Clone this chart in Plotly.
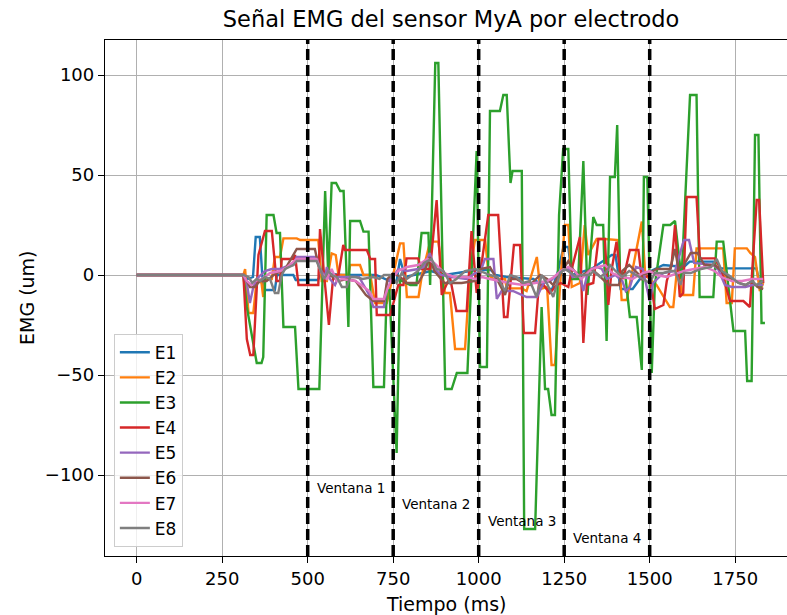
import plotly.graph_objects as go

# ---------------- data (time in ms, EMG in um) ----------------
t_e1 = [0, 310, 325, 340, 348, 360, 370, 404, 410, 458, 465, 530, 540, 600, 700, 740, 760, 770, 785, 860, 900, 994, 1035, 1050, 1080, 1160, 1200, 1215, 1232, 1248, 1262, 1272, 1330, 1389, 1400, 1415, 1450, 1480, 1540, 1600, 1617, 1686, 1696, 1750, 1812, 1820, 1832]
v_e1 = [0, 0, -2, -1, 19, 19, -7.5, -7.5, 0, 0, -2.5, -2.5, 1, 0, 0, -3, -3, 8, -1, 2, 0, 2.5, 2.5, 0, -1, -2, -7, -7, 2, 14, 14, 0, 3, 10, 10, -7, -7, 0, 5, 4, 6.7, 6.7, 3.3, 3.3, 3.3, -3, -3]

t_e2 = [0, 312, 317, 327, 341, 351, 365, 370, 375, 395, 404, 419, 429, 468, 478, 531, 541, 556, 570, 582, 590, 619, 624, 653, 663, 683, 697, 731, 750, 770, 780, 790, 824, 834, 858, 882, 901, 916, 931, 960, 975, 989, 1019, 1029, 1043, 1077, 1082, 1126, 1140, 1170, 1180, 1200, 1213, 1223, 1240, 1252, 1262, 1272, 1296, 1310, 1320, 1345, 1369, 1408, 1418, 1433, 1477, 1487, 1520, 1559, 1569, 1584, 1593, 1627, 1637, 1715, 1725, 1740, 1749, 1784, 1794, 1808, 1822, 1832]
v_e2 = [0, 0, 3, -19, -19, -2, -4, -11, -2, -2, 9, 9, 18.3, 18.3, 17.5, 17.5, -3, -3, 10.8, 10, 0, 0, 5, 5, 0, 0, -14, -14, 0, 15.8, 15.8, -11, -11, 0, 16.7, 16.7, -9, -9, -37, -37, 2, 17.5, 17.5, 0, -2, -2, -6.7, -6.7, -8, 9, -7, -6, -45, -45, 0, 25, 25, -6, -4, 25, 10, 18, 18, 17.5, -12.5, -12.5, 26.7, 0, -5, -16, -16, 10, -10, -10, 13.3, 13.3, -14, -14, 13.3, 13.3, 11, 9, -8, -4]

t_e3 = [0, 312, 322, 351, 365, 370, 380, 400, 409, 419, 429, 463, 473, 534, 551, 560, 570, 583, 595, 605, 619, 624, 653, 663, 678, 692, 723, 731, 739, 760, 770, 800, 818, 833, 853, 858, 873, 882, 902, 921, 936, 967, 994, 1004, 1024, 1033, 1062, 1072, 1082, 1093, 1099, 1126, 1133, 1165, 1184, 1194, 1203, 1213, 1223, 1235, 1247, 1262, 1272, 1291, 1306, 1318, 1335, 1345, 1364, 1374, 1384, 1398, 1405, 1413, 1428, 1442, 1462, 1477, 1483, 1493, 1506, 1515, 1540, 1560, 1574, 1593, 1618, 1637, 1646, 1686, 1696, 1715, 1745, 1779, 1785, 1798, 1808, 1818, 1827, 1837]
v_e3 = [0, 0, -16, -44, -44, -41, 30, 30, 21, 21, -26, -26, -57, -57, 42, 0, 46, 46, 42, 42, -26, 27, 27, 21.7, 21.7, -56, -56, -7.5, -7.5, -89, -2.5, -5, -5, 21, 21, -5, 106, 106, -57, -57, -49, -49, 62, -46, -46, 82, 82, 90, 90, 46, 52, 52, -127, -127, -16, -57, -57, -70, -70, 30, 63, 63, -2, -2, 57, -10, 29, 25, 25, -33, 49, 49, 75, 1, 1, -21, -21, -47.5, 49, 49, -49, -5, 25, 25, 27, -2, 90, 90, -11, -11, 16.7, 16.7, -28, -28, -53, -53, 70, 70, -24, -24]

t_e4 = [0, 312, 322, 332, 341, 356, 375, 395, 409, 419, 424, 458, 463, 473, 531, 536, 548, 562, 575, 590, 604, 609, 673, 683, 697, 702, 741, 765, 780, 789, 823, 833, 858, 877, 892, 902, 916, 935, 965, 979, 994, 1004, 1028, 1057, 1074, 1084, 1103, 1121, 1132, 1165, 1176, 1190, 1208, 1228, 1240, 1262, 1275, 1296, 1306, 1316, 1335, 1350, 1369, 1379, 1389, 1403, 1413, 1423, 1442, 1467, 1477, 1500, 1515, 1540, 1550, 1564, 1574, 1588, 1598, 1608, 1637, 1647, 1691, 1710, 1735, 1774, 1793, 1813, 1820, 1832]
v_e4 = [0, 0, -32, -40, -40, 10, 22, 22, -3, -3, 8, 8, 10, -5, -5, 23, 0, -25, 0, 0, 15, 12.5, 12.5, 8, 8, -20, -20, -5, -5, 8.3, 8.3, 3, 3, 37.5, -10, -6, -1, -18, -18, 22, -9, 0, 30, 30, -21, -21, 15, 15, -29, -29, -5, -5, -9, -5, -4, -6, 5, 19, -34, -5, -4, 18, 18, -15, 3, 16.7, 2, -2, 12.5, 12.5, -2, 0, -17, -15, -3, 5, 25, -11, -9, 39, 39, 8.3, 8.3, 2, -13, -13, -16, 37.5, 37.5, -4]

t_e5 = [0, 312, 322, 331, 341, 351, 375, 395, 420, 434, 458, 468, 526, 536, 551, 556, 565, 580, 590, 650, 680, 692, 723, 733, 750, 765, 790, 823, 840, 857, 870, 890, 920, 965, 990, 1004, 1018, 1043, 1053, 1067, 1100, 1140, 1170, 1190, 1210, 1240, 1262, 1275, 1296, 1306, 1320, 1345, 1360, 1375, 1400, 1420, 1430, 1442, 1460, 1480, 1500, 1510, 1540, 1574, 1600, 1615, 1630, 1686, 1700, 1720, 1740, 1780, 1800, 1832]
v_e5 = [0, 0, -4, -14, -6, -2, 2, 3, 3, 4, 5, 9, 9, 3, -1, 4, -2, -5, -1, -1, -10, -16, -16, -3, -1, 3, 2, 3, 4, 11, 3, 0, -1, -2, 1, 1, 8, 8, -12, -8, -8, -11, -11, -4, -3, 2, 3, -1, 0, -8, 2, 4, 3, -2, 0, -3, -8, -6, 4, 3, -13, -4, 1, 2, 17.5, 17.5, 6, 5, 3, -5, -6, -6, -5, -5]

t_e6 = [0, 312, 322, 331, 345, 360, 380, 400, 434, 458, 468, 521, 531, 546, 565, 590, 614, 640, 670, 692, 723, 733, 750, 770, 790, 823, 840, 857, 870, 900, 950, 990, 1004, 1033, 1053, 1077, 1090, 1110, 1130, 1150, 1180, 1200, 1218, 1240, 1262, 1275, 1296, 1330, 1350, 1380, 1410, 1420, 1440, 1470, 1500, 1520, 1560, 1574, 1584, 1600, 1620, 1640, 1660, 1690, 1710, 1730, 1760, 1780, 1800, 1815, 1832]
v_e6 = [0, 0, -3, -6, -6, -3, -3, 0, 3, 10, 13, 13, 5, -1, 0, -3, -2, -3, -10, -13, -13, -2, 1, -1, -4, -4, 1, 9, 2, -4, -4, -3, 3, 4, -2, -10, -2, -2, -4, -5, 0, -2, -5, 1, 7, 3, -1, 3, 0, -5, -5, 2, 5, 0, 1, 3, 3, 13, 3, 5, 11, 11, 5, 5, 2, -1, -4, -5, -3, -6, -7]

t_e7 = [0, 312, 322, 335, 345, 365, 390, 420, 440, 468, 526, 540, 556, 570, 585, 600, 640, 680, 692, 723, 735, 750, 765, 790, 823, 850, 870, 900, 930, 965, 990, 1010, 1033, 1060, 1090, 1130, 1160, 1200, 1220, 1240, 1262, 1280, 1300, 1330, 1350, 1370, 1390, 1420, 1450, 1480, 1500, 1520, 1550, 1580, 1600, 1630, 1660, 1690, 1710, 1740, 1770, 1800, 1832]
v_e7 = [0, 0, -3, -5, -3, -2, 1, 2, 4, 8, 8, 1, -2, 3, -3, -2, -3, -8, -12, -12, -6, -1, 2, 4, 5, 8, 6, 1, -1, -1, -2, -1, -2, -3, -4, -5, -4, -3, -1, 2, 4, 2, -2, 3, 4, 5, 1, -1, -2, 1, 2, 0, -1, 1, 2, 3, 4, 2, -1, -3, -3, -2, -2]

t_e8 = [0, 312, 327, 338, 351, 361, 375, 390, 404, 414, 424, 434, 458, 468, 526, 536, 548, 560, 570, 585, 600, 614, 624, 640, 660, 692, 710, 723, 740, 760, 775, 790, 823, 840, 862, 877, 897, 916, 935, 960, 990, 1004, 1033, 1055, 1077, 1092, 1110, 1130, 1150, 1169, 1184, 1199, 1218, 1238, 1252, 1270, 1285, 1300, 1325, 1335, 1355, 1372, 1384, 1400, 1420, 1440, 1460, 1480, 1500, 1515, 1540, 1560, 1574, 1590, 1600, 1620, 1650, 1680, 1696, 1711, 1730, 1760, 1780, 1800, 1812, 1832]
v_e8 = [0, 0, -1, -4, -2, -3, -1, -2, -9, -9, 0, 3, 5, 7, 7, 3, -2, 2, 0, -1, -6, -6, -1, -1, -2, -1, -2, 0, 0, -4, 1, -2, 2, 6, 8, 3, 2, -4, -2, 2, 3, 2, 0, -1, -8, 0, -1, -4, -3, -11, 0, -4, -11, 1, 3, 1, -1, 0, 0, 2, -1, 1, 5, 2, -1, 2, 0, -2, -4, 1, 1, 2, 2, -5, 1, 1, 3, 4, 8, 2, 0, -4, -5, -3, -5, -3]

series_names = ["E1", "E2", "E3", "E4", "E5", "E6", "E7", "E8"]
series_t = [t_e1, t_e2, t_e3, t_e4, t_e5, t_e6, t_e7, t_e8]
series_v = [v_e1, v_e2, v_e3, v_e4, v_e5, v_e6, v_e7, v_e8]
colors = ["#1f77b4", "#ff7f0e", "#2ca02c", "#d62728", "#9467bd", "#8c564b", "#e377c2", "#7f7f7f"]

ventanas = [500, 750, 1000, 1250, 1500]
ventana_labels = ["Ventana 1", "Ventana 2", "Ventana 3", "Ventana 4"]
ventana_label_y = [-106.5, -114.5, -123, -131.5]

x_ticks = [0, 250, 500, 750, 1000, 1250, 1500, 1750]
y_ticks = [-100, -50, 0, 50, 100]
y_ticktext = ["\u2212100", "\u221250", "0", "50", "100"]

FONT = "DejaVu Sans"

fig = go.Figure()
for name, tt, vv, c in zip(series_names, series_t, series_v, colors):
    fig.add_trace(go.Scatter(x=tt, y=vv, mode="lines", name=name,
                             line=dict(color=c, width=2.4)))

for w in ventanas:
    fig.add_shape(type="line", xref="x", yref="paper", x0=w, x1=w, y0=0, y1=1,
                  line=dict(color="black", width=3.5, dash="11px,5px"), layer="above")

for w, lab, yy in zip(ventanas, ventana_labels, ventana_label_y):
    fig.add_annotation(x=w + 20, y=yy, xref="x", yref="y", text=lab, showarrow=False,
                       xanchor="left", yanchor="middle",
                       font=dict(family=FONT, size=13.5, color="black"))

# axis titles as annotations
fig.add_annotation(text="Tiempo (ms)", xref="paper", yref="paper", x=0.5, y=0,
                   yshift=-48, showarrow=False, xanchor="center", yanchor="middle",
                   font=dict(family=FONT, size=19, color="black"))
fig.add_annotation(text="EMG (um)", xref="paper", yref="paper", x=0, y=0.5,
                   xshift=-78, showarrow=False, textangle=-90, xanchor="center", yanchor="middle",
                   font=dict(family=FONT, size=19, color="black"))

fig.update_layout(
    width=787, height=615,
    margin=dict(l=105, r=0, t=40, b=59),
    paper_bgcolor="white", plot_bgcolor="white",
    title=dict(text="Señal EMG del sensor MyA por electrodo", x=451 / 787, xref="container",
               xanchor="center", y=1 - 19 / 615, yref="container", yanchor="middle",
               font=dict(family=FONT, size=22.5, color="black")),
    font=dict(family=FONT, size=18, color="black"),
    legend=dict(x=0.013, y=0.018, xanchor="left", yanchor="bottom",
                bgcolor="rgba(255,255,255,0.8)", bordercolor="#cccccc", borderwidth=1,
                font=dict(family=FONT, size=17), tracegroupgap=0),
    showlegend=True,
)
fig.update_xaxes(range=[-92.7, 1901.5], tickvals=x_ticks, ticks="outside", ticklen=6,
                 tickwidth=1.3, tickcolor="black", showline=True, linecolor="black",
                 linewidth=1.3, mirror=True, showgrid=True, gridcolor="#b0b0b0",
                 gridwidth=1.2, zeroline=False, tickfont=dict(family=FONT, size=18))
fig.update_yaxes(range=[-140.5, 117.5], tickvals=y_ticks, ticktext=y_ticktext,
                 ticks="outside", ticklen=6, tickwidth=1.3, tickcolor="black",
                 showline=True, linecolor="black", linewidth=1.3, mirror=False,
                 showgrid=True, gridcolor="#b0b0b0", gridwidth=1.2, zeroline=False,
                 tickfont=dict(family=FONT, size=18))

fig.write_html("out.html")
